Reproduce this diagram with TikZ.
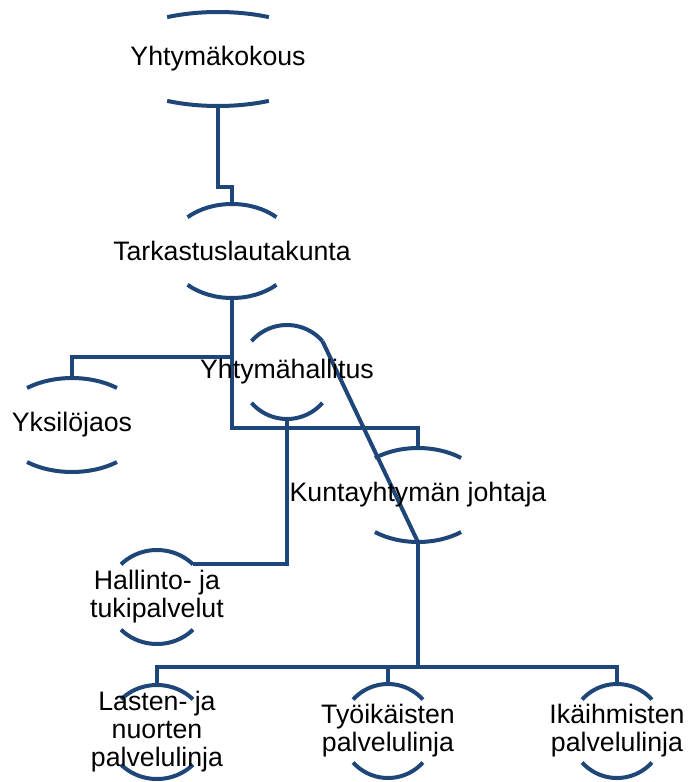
\documentclass[tikz,border=0pt]{standalone}
\usepackage{fontspec}
\setmainfont{Liberation Sans}
\usetikzlibrary{backgrounds}
\definecolor{orgblue}{RGB}{30,70,120}
\newcommand{\unitarcs}[3]{%
  \path (#1.center) ++(#3:#2 and 47) coordinate (#1-ne)
        (#1.center) ++(180-#3:#2 and 47) coordinate (#1-nw)
        (#1.center) ++(180+#3:#2 and 47) coordinate (#1-sw)
        (#1.center) ++(-#3:#2 and 47) coordinate (#1-se);
  \draw[unitline] (#1-nw) arc[start angle=180-#3, end angle=#3, x radius=#2, y radius=47];
  \draw[unitline] (#1-sw) arc[start angle=180+#3, end angle=360-#3, x radius=#2, y radius=47];
}

\begin{document}
\begin{tikzpicture}[x=1pt,y=1pt,
  unit/.style={rectangle,inner sep=0pt,minimum height=94pt,align=center,
    font=\fontsize{26.7}{28}\selectfont},
  unitline/.style={draw=orgblue,line width=4pt},
  link/.style={draw=orgblue,line width=4pt}]
\useasboundingbox (0,0) rectangle (692,-782);

\node[unit] (kokous) at (218,-59) {Yhtymäkokous};
\node[unit] (tarkastus) at (232,-251) {Tarkastuslautakunta};
\node[unit] (yksilo) at (72,-425) {Yksilöjaos};
\node[unit] (hallitus) at (287,-372) {Yhtymähallitus};
\node[unit] (johtaja) at (418,-495) {Kuntayhtymän johtaja};
\node[unit] (hallinto) at (157,-597) {Hallinto- ja\\tukipalvelut};
\node[unit] (lasten) at (157,-732) {Lasten- ja\\nuorten\\palvelulinja};
\node[unit] (tyoik) at (388,-731) {Työikäisten\\palvelulinja};
\node[unit] (ikaih) at (617,-731) {Ikäihmisten\\palvelulinja};

\begin{scope}[on background layer]
\unitarcs{kokous}{112}{63}
\unitarcs{tarkastus}{64}{46}
\unitarcs{yksilo}{73}{52}
\unitarcs{hallitus}{47}{41}
\unitarcs{johtaja}{70}{52}
\unitarcs{hallinto}{50}{44}
\unitarcs{lasten}{50}{44}
\unitarcs{tyoik}{47}{42}
\unitarcs{ikaih}{47}{42}

\coordinate (jako) at ([yshift=-125pt]johtaja.south);
\draw[link] (kokous.south) -- ++(0,-81) -| (tarkastus.north);
\draw[link] (tarkastus.south) -- ++(0,-130) -| (johtaja.north);
\draw[link] ([yshift=-59pt]tarkastus.south) -| (yksilo.north);
\draw[link] (hallitus.south) |- (hallinto-ne);
\draw[link] (hallitus-ne) -- (johtaja.south);
\draw[link] (johtaja.south) -- (jako) -| (tyoik.north);
\draw[link] (jako) -| (lasten.north);
\draw[link] (jako) -| (ikaih.north);
\end{scope}
\end{tikzpicture}
\end{document}
